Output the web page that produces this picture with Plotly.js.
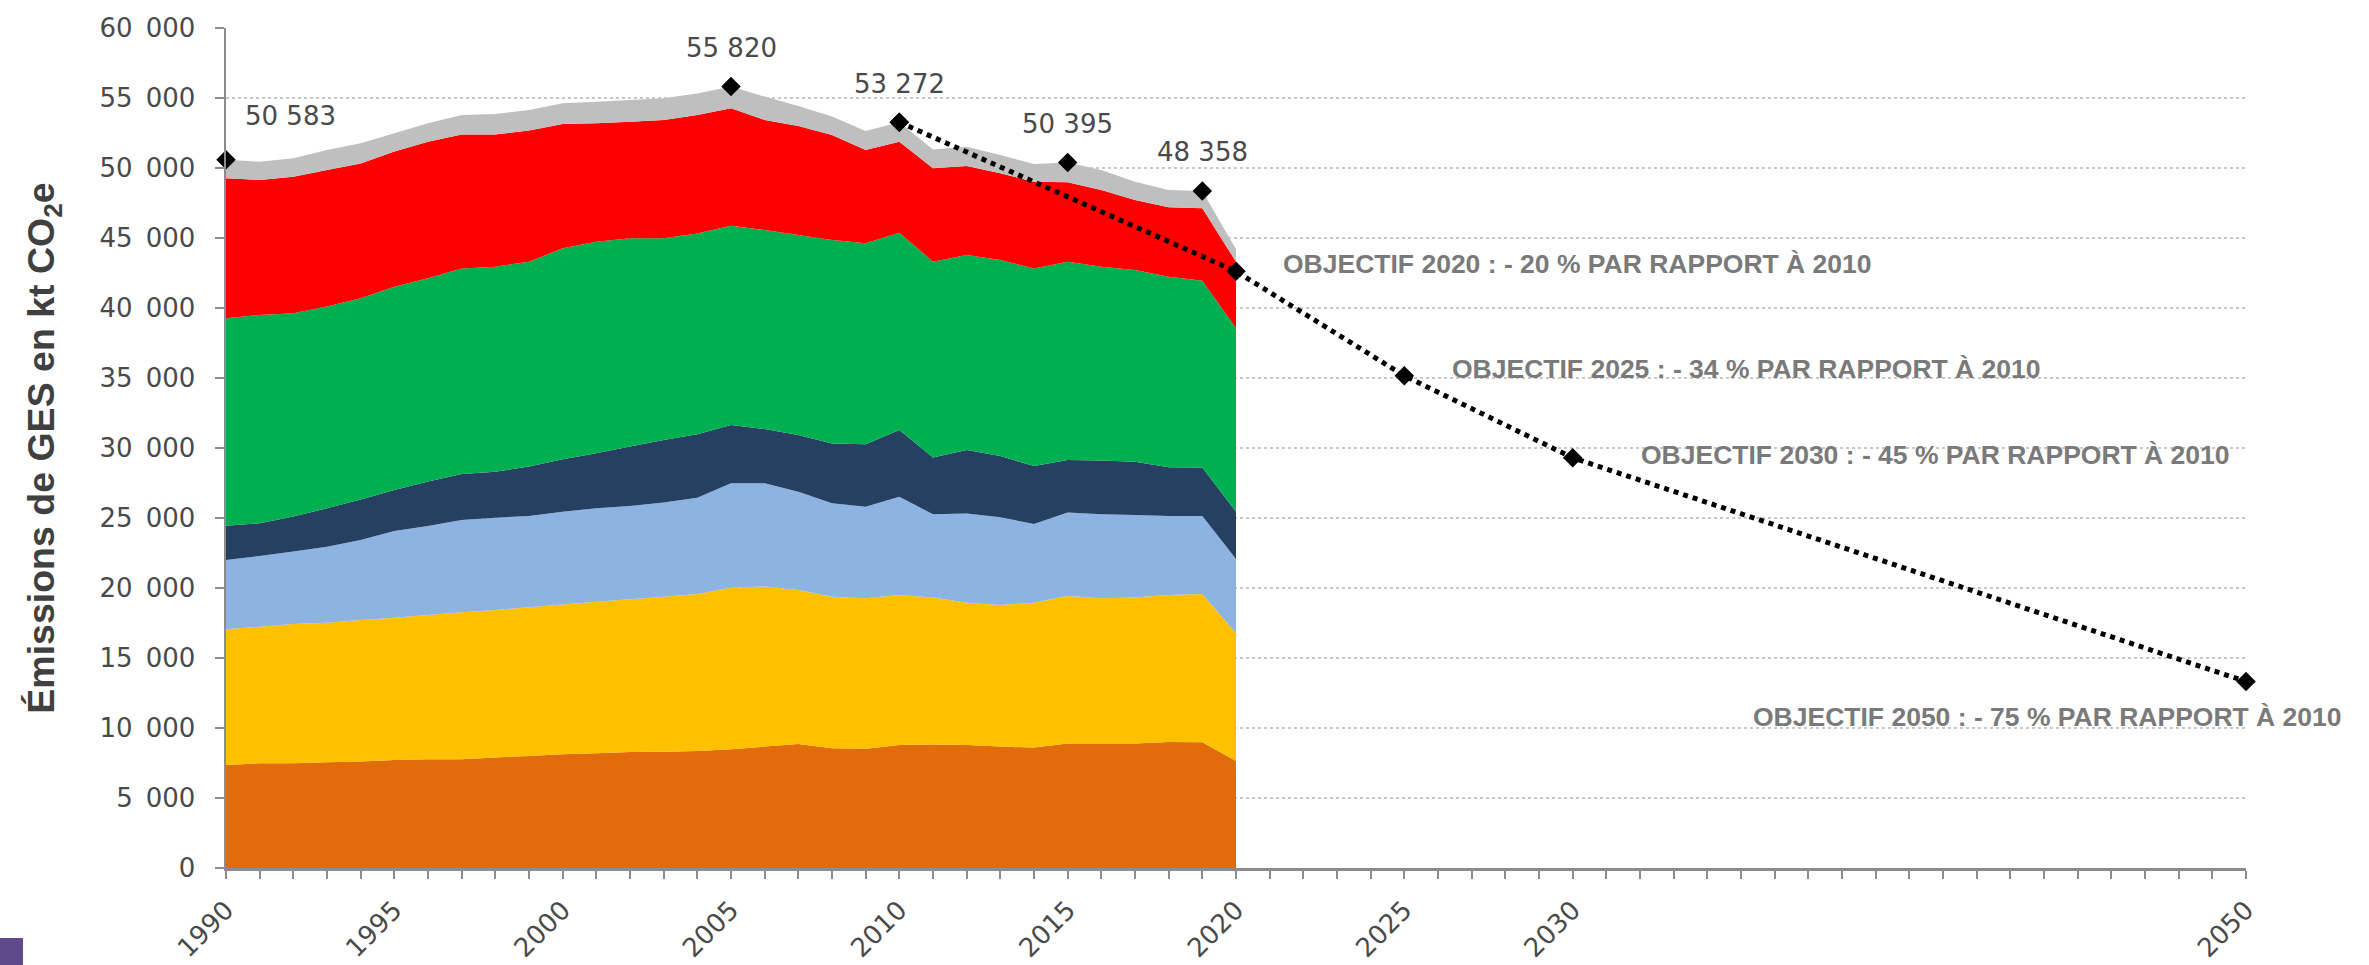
<!DOCTYPE html>
<html>
<head>
<meta charset="utf-8">
<script src="https://cdn.plot.ly/plotly-3.0.1.min.js"></script>
<style>
  html, body { margin: 0; padding: 0; background: #ffffff; }
  #chart { width: 2369px; height: 965px; }
</style>
</head>
<body>
<div id="chart"></div>
<script>
// ---- Data (kt CO2e) ----
const years = [1990, 1991, 1992, 1993, 1994, 1995, 1996, 1997, 1998, 1999,
               2000, 2001, 2002, 2003, 2004, 2005, 2006, 2007, 2008, 2009,
               2010, 2011, 2012, 2013, 2014, 2015, 2016, 2017, 2018, 2019, 2020];

const seriesOrange = [7360, 7480, 7480, 7550, 7600, 7710, 7760, 7760, 7900, 8000,
                      8120, 8190, 8290, 8310, 8360, 8480, 8670, 8860, 8550, 8520,
                      8790, 8830, 8790, 8670, 8600, 8900, 8900, 8900, 9000, 8980, 7640];
const seriesYellow = [9690, 9760, 9950, 9970, 10110, 10170, 10310, 10500, 10530, 10620,
                      10710, 10830, 10900, 11070, 11210, 11540, 11430, 11000, 10830, 10740,
                      10710, 10500, 10160, 10120, 10350, 10530, 10360, 10430, 10500, 10590, 9120];
const seriesLightBlue = [4950, 5050, 5170, 5430, 5720, 6190, 6360, 6600, 6590, 6520,
                         6620, 6670, 6670, 6720, 6880, 7460, 7380, 7020, 6670, 6550,
                         7020, 5930, 6380, 6260, 5620, 5970, 6000, 5880, 5640, 5570, 5310];
const seriesNavy = [2450, 2330, 2500, 2740, 2900, 2930, 3170, 3280, 3290, 3530,
                    3740, 3930, 4240, 4470, 4530, 4160, 3880, 4050, 4280, 4450,
                    4770, 4070, 4530, 4380, 4140, 3740, 3840, 3810, 3480, 3460, 3380];
const seriesGreen = [14810, 14880, 14520, 14410, 14360, 14520, 14520, 14690, 14640, 14640,
                     15070, 15120, 14880, 14410, 14350, 14240, 14210, 14280, 14530, 14360,
                     14090, 13980, 13930, 14000, 14120, 14170, 13850, 13690, 13620, 13350, 13100];
const seriesRed = [10000, 9640, 9760, 9760, 9640, 9650, 9760, 9570, 9450, 9360,
                   8880, 8450, 8330, 8450, 8460, 8380, 7860, 7790, 7500, 6670,
                   6500, 6670, 6350, 6190, 6190, 5670, 5480, 5000, 4950, 5170, 4750];
const seriesGray = [1323, 1310, 1310, 1430, 1430, 1310, 1310, 1390, 1460, 1470,
                    1480, 1550, 1550, 1550, 1540, 1560, 1670, 1430, 1310, 1350,
                    1392, 1350, 1380, 1310, 1270, 1415, 1430, 1310, 1240, 1238, 900];

// Labelled totals
const milestoneYears = [1990, 2005, 2010, 2015, 2019];
const milestoneValues = [50583, 55820, 53272, 50395, 48358];

// Reduction trajectory (from 2010)
const trajectoryYears = [2010, 2020, 2025, 2030, 2050];
const trajectoryValues = [53272, 42618, 35160, 29300, 13318];
const objectiveYears = [2020, 2025, 2030, 2050];
const objectivePct = [20, 34, 45, 75];

// Axis tick labels
const xTickYears = [1990, 1991, 1992, 1993, 1994, 1995, 1996, 1997, 1998, 1999,
                    2000, 2001, 2002, 2003, 2004, 2005, 2006, 2007, 2008, 2009,
                    2010, 2011, 2012, 2013, 2014, 2015, 2016, 2017, 2018, 2019,
                    2020, 2021, 2022, 2023, 2024, 2025, 2026, 2027, 2028, 2029,
                    2030, 2031, 2032, 2033, 2034, 2035, 2036, 2037, 2038, 2039,
                    2040, 2041, 2042, 2043, 2044, 2045, 2046, 2047, 2048, 2049, 2050];
const xLabelYears = [1990, 1995, 2000, 2005, 2010, 2015, 2020, 2025, 2030, 2050];

// ---- Styles ----
const layers = [
  {y: seriesOrange, color: '#E36C0A'},
  {y: seriesYellow, color: '#FFC000'},
  {y: seriesLightBlue, color: '#8DB3E2'},
  {y: seriesNavy, color: '#254061'},
  {y: seriesGreen, color: '#00B050'},
  {y: seriesRed, color: '#FF0000'},
  {y: seriesGray, color: '#BFBFBF'}
];

const numFont = {family: 'DejaVu Sans, Liberation Sans, sans-serif', size: 26, color: '#4A4A4A'};
const objFont = {family: 'Liberation Sans, Arial, sans-serif', size: 26.5, color: '#7A7A7A', weight: 'bold'};

function fmt(v) {
  return String(v).replace(/\B(?=(\d{3})+(?!\d))/g, ' ');
}

const traces = layers.map(l => ({
  type: 'scatter',
  x: years,
  y: l.y,
  stackgroup: 'ges',
  mode: 'none',
  fillcolor: l.color,
  line: {width: 0},
  showlegend: false,
  hoverinfo: 'x+y'
}));

traces.push({
  type: 'scatter',
  x: trajectoryYears,
  y: trajectoryValues,
  mode: 'lines+markers',
  line: {color: '#000000', width: 5, dash: 'dot'},
  marker: {symbol: 'diamond', size: 15, color: '#000000'},
  cliponaxis: false,
  showlegend: false
});

traces.push({
  type: 'scatter',
  x: milestoneYears,
  y: milestoneValues,
  mode: 'markers',
  marker: {symbol: 'diamond', size: 15, color: '#000000'},
  cliponaxis: false,
  showlegend: false
});

const annotations = [];
milestoneYears.forEach((yr, i) => {
  const first = i === 0;
  annotations.push({
    x: yr, y: milestoneValues[i], xref: 'x', yref: 'y',
    text: fmt(milestoneValues[i]),
    showarrow: false,
    xanchor: first ? 'left' : 'center',
    yanchor: 'middle',
    xshift: first ? 17 : 0,
    yshift: first ? 44 : 38.5,
    font: numFont
  });
});

const objShifts = [
  {xanchor: 'left', xshift: 45, yshift: 7},
  {xanchor: 'left', xshift: 46, yshift: 7},
  {xanchor: 'left', xshift: 66, yshift: 3},
  {xanchor: 'right', xshift: 98, yshift: -35}
];
objectiveYears.forEach((yr, i) => {
  const idx = trajectoryYears.indexOf(yr);
  annotations.push({
    x: yr, y: trajectoryValues[idx], xref: 'x', yref: 'y',
    text: 'OBJECTIF ' + yr + ' : - ' + objectivePct[i] + ' % PAR RAPPORT À 2010',
    showarrow: false,
    xanchor: objShifts[i].xanchor,
    yanchor: 'middle',
    xshift: objShifts[i].xshift,
    yshift: objShifts[i].yshift,
    font: objFont
  });
});

const layout = {
  width: 2369,
  height: 965,
  margin: {l: 226, r: 123, t: 28, b: 97},
  paper_bgcolor: '#ffffff',
  plot_bgcolor: '#ffffff',
  separators: ',\u2002',
  showlegend: false,
  xaxis: {
    range: [1990, 2050],
    tickmode: 'array',
    tickvals: xTickYears,
    ticktext: xTickYears.map(y => xLabelYears.includes(y) ? String(y) : ''),
    tickangle: -45,
    ticks: 'outside',
    ticklen: 8,
    tickwidth: 2,
    tickcolor: '#8C8C8C',
    showline: true,
    linecolor: '#8C8C8C',
    linewidth: 2.5,
    showgrid: false,
    zeroline: false,
    tickfont: numFont,
    ticklabelstandoff: 6
  },
  yaxis: {
    range: [0, 60000],
    tickmode: 'linear',
    tick0: 0,
    dtick: 5000,
    tickformat: ',d',
    ticks: 'outside',
    ticklen: 9,
    tickwidth: 2,
    tickcolor: '#8C8C8C',
    showline: true,
    linecolor: '#8C8C8C',
    linewidth: 2.5,
    showgrid: true,
    gridcolor: '#C8C8C8',
    gridwidth: 2,
    griddash: 'dot',
    zeroline: false,
    tickfont: numFont,
    ticklabelstandoff: 14,
    title: {
      text: 'Émissions de GES en kt CO<sub>2</sub>e',
      font: {family: 'Liberation Sans, Arial, sans-serif', size: 37.5, color: '#404040', weight: 'bold'},
      standoff: 34
    }
  },
  annotations: annotations,
  shapes: [{
    type: 'rect', xref: 'paper', yref: 'paper',
    x0: -0.1119, x1: -0.1005, y0: -0.1155, y1: -0.0833,
    fillcolor: '#5F4B8B', line: {width: 0}, layer: 'above'
  }]
};

Plotly.newPlot('chart', traces, layout, {displayModeBar: false, staticPlot: true});
</script>
</body>
</html>
